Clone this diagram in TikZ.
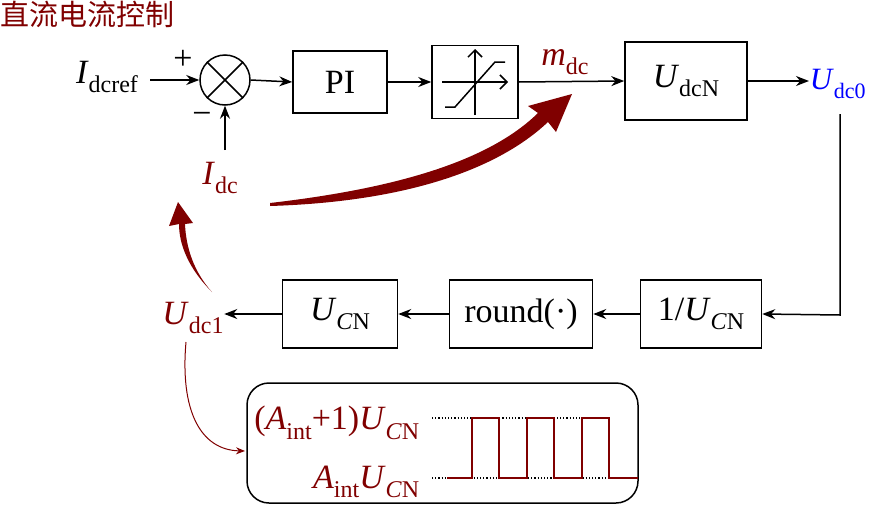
\documentclass[tikz,border=0pt]{standalone}
\usepackage{fontspec}
\setmainfont{Liberation Serif}
\newfontfamily\cjk{Noto Sans CJK SC}
\usetikzlibrary{arrows.meta}
\definecolor{dred}{HTML}{800000}
\newcommand\vv[2]{\textit{#1}\raisebox{-0.28em}{\fontsize{24}{28}\selectfont #2}}
\newcommand\sub[1]{\raisebox{-0.28em}{\fontsize{24}{28}\selectfont #1}}
\begin{document}
\begin{tikzpicture}[x=1pt,y=-1pt,line width=1.5pt,
  blk/.style={draw,minimum width=#1,minimum height=64pt,inner sep=0pt,font=\fontsize{34}{40}\selectfont},
  lab/.style={font=\fontsize{34}{40}\selectfont,inner sep=0pt},
  ar/.style={-{Stealth[length=13pt,width=10pt]}}]
\useasboundingbox (0,0) rectangle (870,509);
\node[anchor=north west,text=dred,inner sep=0pt,font=\cjk\fontsize{29}{32}\selectfont] (title) at (0,0) {直流电流控制};
\node[lab] (iref) at (107,77) {\vv{I}{dcref}};
\node[draw,circle,minimum size=50pt,inner sep=0pt] (sum) at (225,80) {};
\draw (sum.north west)--(sum.south east) (sum.north east)--(sum.south west);
\node[lab] (plus) at (183,60) {+};
\node[lab] (minus) at (202,118) {−};
\node[lab,text=dred] (idc) at (220,178) {\vv{I}{dc}};
\node[blk=94pt,minimum height=62pt] (pi) at (340,82) {PI};
\node[blk=86pt,minimum height=73pt] (sat) at (475,82) {};
\draw[-{Straight Barb[length=7pt]}] (sat.center)++(-33,0) -- ++(66,0);
\draw[-{Straight Barb[length=7pt]}] (sat.center)++(0,33) -- ++(0,-66);
\draw (sat.center)++(-30,25) -- ++(10,0) -- ++(40,-45) -- ++(10,0);
\node[blk=122pt,minimum height=78pt] (udcn) at (686,81) {\vv{U}{dcN}};
\node[lab,text=dred] (mdc) at (565,62) {\vv{m}{dc}};
\node[text=blue,anchor=west,inner sep=0pt,font=\fontsize{31}{36}\selectfont] (udc0) at (809,84) {\textit{U}\raisebox{-0.28em}{\fontsize{22}{26}\selectfont dc0}};
\node[blk=121pt,minimum height=68pt] (inv) at (701,314) {1/\textit{U}\sub{\textit{C}N}};
\node[blk=143pt,minimum height=68pt] (rnd) at (521,314) {round(·)};
\node[blk=115pt,minimum height=68pt] (ucn) at (340,314) {\textit{U}\sub{\textit{C}N}};
\node[lab,text=dred] (udc1) at (193,318) {\vv{U}{dc1}};
\coordinate (c1) at (840,315);
\coordinate (c0) at (840,114);
\coordinate (e1) at (150,80);
\coordinate (e2) at (225,150);
\draw[ar] (e1) -- (sum.west);
\draw[ar] (e2) -- (sum.south);
\draw[ar] (sum.east) -- (pi.west);
\draw[ar] (pi.east) -- (sat.west);
\draw[ar] (sat.east) -- (udcn.west);
\draw[ar] (udcn.east) -- (udcn.east -| udc0.west);
\draw[ar] (c0) -- (c1) -- (inv.east);
\draw[ar] (inv.west) -- (rnd.east);
\draw[ar] (rnd.west) -- (ucn.east);
\draw[ar] (ucn.west) -- (ucn.west -| udc1.east);
% thick curved arrows
\fill[dred] (270,203) .. controls (400,188) and (490,160) .. (538,113) -- (528,106) -- (572,94) -- (556,132) -- (548,122) .. controls (495,172) and (400,202) .. (270,206) -- cycle;
\fill[dred] (212,292) .. controls (188,268) and (179,244) .. (179,224) -- (169,226) -- (178,202) -- (193,223) -- (185,224) .. controls (186,248) and (194,272) .. (212,292) -- cycle;
\draw[dred,line width=1pt,-{Stealth[length=9pt,width=7pt]}] (186,342) .. controls (180,410) and (200,450) .. (245,451);
% pulse box
\node[draw,rounded corners=22pt,minimum width=391pt,minimum height=120pt] (pbox) at (442.5,443) {};
\node[lab,text=dred,anchor=east] (hi) at (420,423) {(\textit{A}\sub{int}+1)\textit{U}\sub{\textit{C}N}};
\node[lab,text=dred,anchor=east] (lo) at (420,482) {\textit{A}\sub{int}\textit{U}\sub{\textit{C}N}};
\draw[line width=1.2pt,dotted] (432,418) -- (610,418) (432,478) -- (610,478);
\draw[dred,line width=1.4pt] (447,478) -- (472,478) -- (472,418) -- (499,418) -- (499,478) -- (527,478) -- (527,418) -- (554,418) -- (554,478) -- (582,478) -- (582,418) -- (609,418) -- (609,478) -- (638,478);
\end{tikzpicture}
\end{document}
